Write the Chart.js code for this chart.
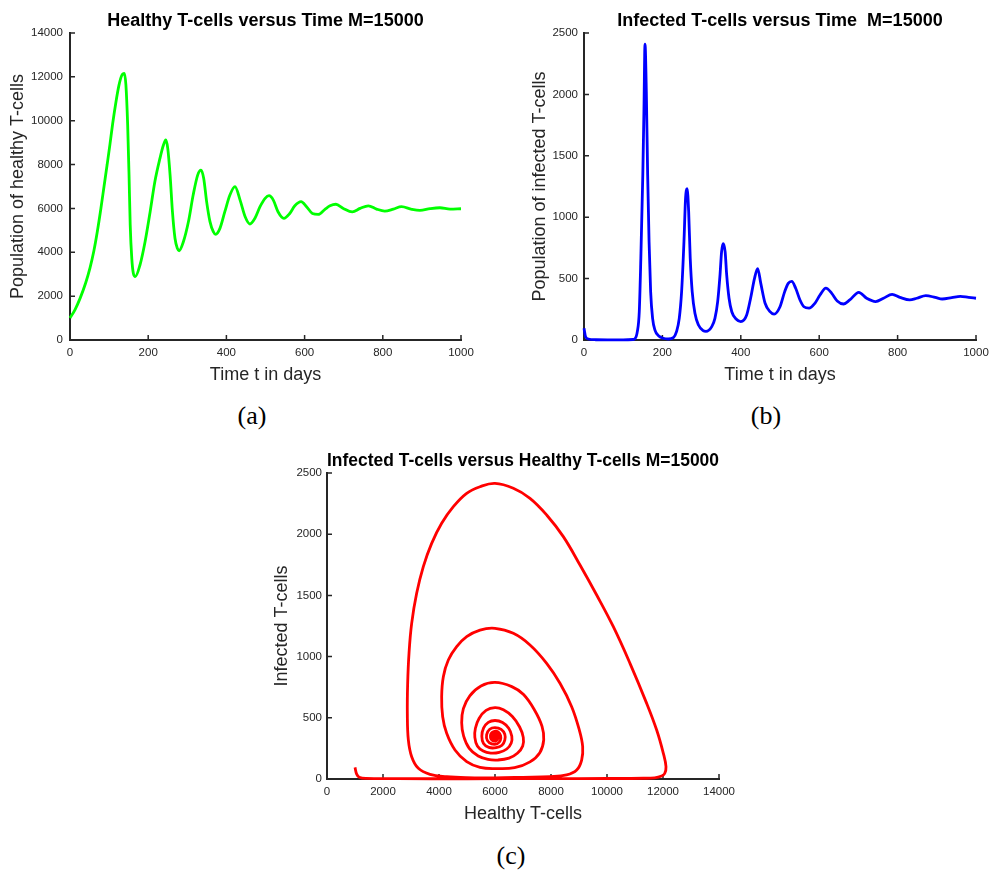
<!DOCTYPE html>
<html>
<head>
<meta charset="utf-8">
<title>T-cell dynamics, M=15000</title>
<script src="https://cdn.jsdelivr.net/npm/chart.js@4.4.0/dist/chart.umd.min.js"></script>
<style>
  body { margin: 0; background: #fff; }
  #page { position: relative; width: 992px; height: 872px; }
  canvas { position: absolute; }
  .sub {
    position: absolute;
    font-family: 'Liberation Serif', 'Times New Roman', serif;
    font-size: 26px;
    line-height: 1;
    color: #000;
    transform: translate(-50%, -50%);
  }
</style>
</head>
<body>
<div id="page">
  <canvas id="healthy" width="481" height="386" style="left:0;top:0"></canvas>
  <canvas id="infected" width="476" height="386" style="left:520px;top:0"></canvas>
  <canvas id="phase" width="484" height="385" style="left:260px;top:440px"></canvas>
  <div class="sub" style="left:252px;top:416px">(a)</div>
  <div class="sub" style="left:766px;top:416px">(b)</div>
  <div class="sub" style="left:511px;top:856px">(c)</div>
</div>
<script>
// tick values
const dayTicks = [0, 200, 400, 600, 800, 1000];
const healthyTicks = [0, 2000, 4000, 6000, 8000, 10000, 12000, 14000];
const infectedTicks = [0, 500, 1000, 1500, 2000, 2500];

// healthy T-cells over time
const healthyDays = [0, 13, 26, 40, 51, 61, 70, 79, 87, 95, 102, 109, 117, 125, 132, 139, 143, 147.5, 151, 154, 158, 162, 167,
  179, 192, 205, 217, 230, 239, 245, 250, 256, 262, 268.5, 274.5, 279, 290, 303, 315, 326.5, 335, 342, 349.5,
  358, 366.5, 372.5, 383.5, 396, 409, 422, 435, 448, 460, 473, 486, 499, 509, 520, 532, 547, 562, 575, 591,
  605, 620, 635, 652, 665, 680, 699, 722, 742, 763, 784, 805, 827, 848, 874, 895, 921, 946, 972, 1000];
const healthyCells = [1000, 1390, 1910, 2600, 3280, 4060, 4960, 6000, 7000, 8000, 8900, 9850, 10800, 11600, 12050, 12160, 11630, 9800, 7520, 5240, 3720, 3040, 2890,
  3420, 4480, 5850, 7220, 8280, 8890, 9120, 8740, 7520, 5850, 4640, 4180, 4070, 4480, 5400, 6610, 7520, 7750, 7370, 6300,
  5400, 4940, 4820, 5090, 5850, 6610, 6990, 6380, 5620, 5290, 5550, 6080, 6460, 6580, 6380, 5850, 5550, 5770, 6120, 6310,
  6080, 5770, 5730, 5960, 6120, 6190, 6000, 5840, 6000, 6120, 5970, 5880, 5970, 6080, 5960, 5910, 5990, 6030, 5970, 5985];

// infected T-cells over time
const infectedDays = [0, 4, 11, 30, 60, 100, 125, 130, 136, 141, 145, 150, 153, 155.6, 159, 162.4, 166, 170, 175, 181,
  190, 202, 215, 228, 236, 243, 249, 255, 259, 263, 267, 271, 276, 283, 292, 304, 311, 326, 334, 341,
  347, 351, 355, 360, 364, 370, 377, 388, 400, 415, 425, 435, 443, 451, 462, 474.5, 485, 500, 512, 521,
  530, 540, 551, 561, 574, 589, 602, 617, 632, 646, 662, 678, 701, 721, 744, 764, 786, 806, 831, 849,
  872, 896, 914, 938, 960, 981, 1000];
const infectedCells = [95, 27, 8, 2, 1, 1, 4, 10, 68, 230, 665, 1344, 1886, 2410, 2022, 1344, 800, 394, 176, 81,
  35, 14, 8, 19, 68, 176, 394, 800, 1150, 1232, 1045, 665, 394, 217, 122, 76, 70, 109, 176, 312,
  530, 720, 785, 720, 530, 340, 230, 171, 150, 204, 340, 502, 582, 461, 299, 231, 210, 271, 394, 461,
  477, 421, 326, 271, 260, 299, 366, 422, 380, 318, 293, 326, 388, 340, 313, 340, 372, 347, 326, 340,
  361, 347, 334, 345, 356, 347, 340];

// phase trajectory: healthy (x) against infected (y)
const phaseHealthy = [1000, 1060, 1150, 1400, 2500, 5000, 8000, 10000, 11300, 11700, 11950, 12060, 12107, 12012, 11774,
  11417, 10821, 10226, 9631, 9036, 8440, 7845, 7250, 6655, 6000, 5464, 4988, 4512, 4095, 3738, 3440, 3202, 3024, 2929,
  2881, 2869, 2905, 3024, 3262, 3679, 4274, 4988, 6000, 7000, 7964, 8560, 8917, 9095, 9131, 9012, 8738, 8321,
  7845, 7250, 6655, 6000, 5464, 4988, 4631, 4333, 4155, 4095, 4131, 4274, 4571, 4988, 5464, 6012,
  6700, 7250, 7600, 7740, 7680, 7420, 7020, 6600, 6000, 5500, 5100, 4870, 4810, 4880, 5080, 5400, 5750, 6100,
  6500, 6800, 6990, 7010, 6880, 6620, 6300, 6000, 5680, 5430, 5300, 5280, 5370, 5580, 5850,
  6150, 6420, 6580, 6600, 6490, 6270, 6000, 5760, 5590, 5530, 5590, 5780, 6040,
  6250, 6350, 6350, 6220, 6000, 5810, 5700, 5730, 5880, 6080,
  6190, 6200, 6110, 5980, 5860, 5840, 5910, 6040,
  6115, 6100, 6000, 5900, 5890, 5960, 6060,
  6080, 6010, 5930, 5930, 6010, 6050, 6000, 5955, 5975, 6020, 5995, 5985];
const phaseInfected = [95, 40, 15, 5, 3, 2, 3, 4, 6, 10, 25, 45, 100, 210, 400,
  618, 945, 1244, 1503, 1748, 1980, 2157, 2293, 2375, 2415, 2388, 2334, 2225, 2089, 1925, 1735, 1517, 1272, 1027,
  782, 536, 319, 182, 87, 38, 19, 11, 10, 14, 19, 33, 73, 155, 264, 400, 591, 782,
  945, 1095, 1190, 1231, 1217, 1163, 1081, 972, 836, 673, 509, 373, 237, 142, 95, 85,
  92, 140, 215, 320, 430, 560, 690, 755, 789, 760, 680, 575, 460, 350, 250, 188, 160, 155,
  170, 210, 270, 340, 425, 510, 565, 583, 560, 495, 415, 340, 270, 228, 212,
  218, 245, 295, 350, 415, 462, 478, 462, 415, 350, 290, 258, 256,
  276, 318, 365, 405, 420, 406, 362, 313, 287, 288,
  314, 355, 384, 390, 372, 338, 314, 313,
  336, 366, 373, 358, 334, 322, 328,
  352, 362, 350, 333, 330, 346, 356, 345, 334, 340, 348, 340];

const FONT = "'Liberation Sans', Arial, sans-serif";
const INK = '#262626';

// MATLAB-style tick marks pointing into the plot area
const inwardTicks = {
  id: 'inwardTicks',
  beforeDatasetsDraw(chart) {
    const { ctx, chartArea: area, scales: { x, y } } = chart;
    ctx.save();
    ctx.strokeStyle = INK;
    ctx.lineWidth = 1.5;
    ctx.beginPath();
    x.ticks.forEach(t => {
      const p = x.getPixelForValue(t.value);
      ctx.moveTo(p, area.bottom);
      ctx.lineTo(p, area.bottom - 5);
    });
    y.ticks.forEach(t => {
      const p = y.getPixelForValue(t.value);
      ctx.moveTo(area.left, p);
      ctx.lineTo(area.left + 5, p);
    });
    ctx.stroke();
    ctx.restore();
  }
};

function axis(values, label, size, titlePad, tickPad) {
  return {
    type: 'linear',
    min: values[0],
    max: values[values.length - 1],
    afterBuildTicks: s => { s.ticks = values.map(v => ({ value: v })); },
    afterFit: s => { if (s.isHorizontal()) s.height = size; else s.width = size; },
    ticks: {
      color: INK,
      padding: tickPad,
      maxRotation: 0,
      autoSkip: false,
      font: { family: FONT, size: 11.5 },
      callback: v => String(v),
    },
    grid: { display: true, drawOnChartArea: false, drawTicks: false },
    border: { display: true, color: INK, width: 2 },
    title: {
      display: true,
      text: label,
      color: INK,
      font: { family: FONT, size: 18 },
      padding: titlePad,
    },
  };
}

function makeChart(id, opts) {
  return new Chart(document.getElementById(id), {
    type: 'line',
    data: {
      datasets: [{
        data: opts.xs.map((v, i) => ({ x: v, y: opts.ys[i] })),
        borderColor: opts.color,
        borderWidth: 2.8,
        pointRadius: 0,
        fill: false,
        clip: false,
        tension: opts.monotone ? 0 : 0.4,
        cubicInterpolationMode: opts.monotone ? 'monotone' : 'default',
      }],
    },
    options: {
      responsive: false,
      animation: false,
      events: [],
      layout: { padding: { left: 0, right: opts.padRight, top: 0, bottom: 0 } },
      plugins: {
        legend: { display: false },
        tooltip: { enabled: false },
        title: {
          display: true,
          text: opts.title,
          color: '#000',
          fullSize: false,
          font: { family: FONT, size: 18, weight: 'bold' },
          padding: { top: 10, bottom: 1.4 },
        },
      },
      scales: {
        x: axis(opts.xTicks, opts.xLabel, 46, { top: 0, bottom: 0 }, 6),
        y: axis(opts.yTicks, opts.yLabel, opts.yWidth, { top: opts.yTitlePad, bottom: 0 }, opts.yTickPad),
      },
    },
    plugins: [inwardTicks],
  });
}

makeChart('healthy', {
  xs: healthyDays, ys: healthyCells, color: '#00ff00', monotone: true,
  title: 'Healthy T-cells versus Time M=15000',
  xLabel: 'Time t in days', yLabel: 'Population of healthy T-cells',
  xTicks: dayTicks, yTicks: healthyTicks,
  yWidth: 70, yTitlePad: 7, yTickPad: 7, padRight: 20,
});

makeChart('infected', {
  xs: infectedDays, ys: infectedCells, color: '#0000ff', monotone: true,
  title: 'Infected T-cells versus Time  M=15000',
  xLabel: 'Time t in days', yLabel: 'Population of infected T-cells',
  xTicks: dayTicks, yTicks: infectedTicks,
  yWidth: 64, yTitlePad: 9, yTickPad: 6, padRight: 20,
});

makeChart('phase', {
  xs: phaseHealthy, ys: phaseInfected, color: '#ff0000', monotone: false,
  title: 'Infected T-cells versus Healthy T-cells M=15000',
  xLabel: 'Healthy T-cells', yLabel: 'Infected T-cells',
  xTicks: healthyTicks, yTicks: infectedTicks,
  yWidth: 67, yTitlePad: 11, yTickPad: 5, padRight: 25,
});
</script>
</body>
</html>
